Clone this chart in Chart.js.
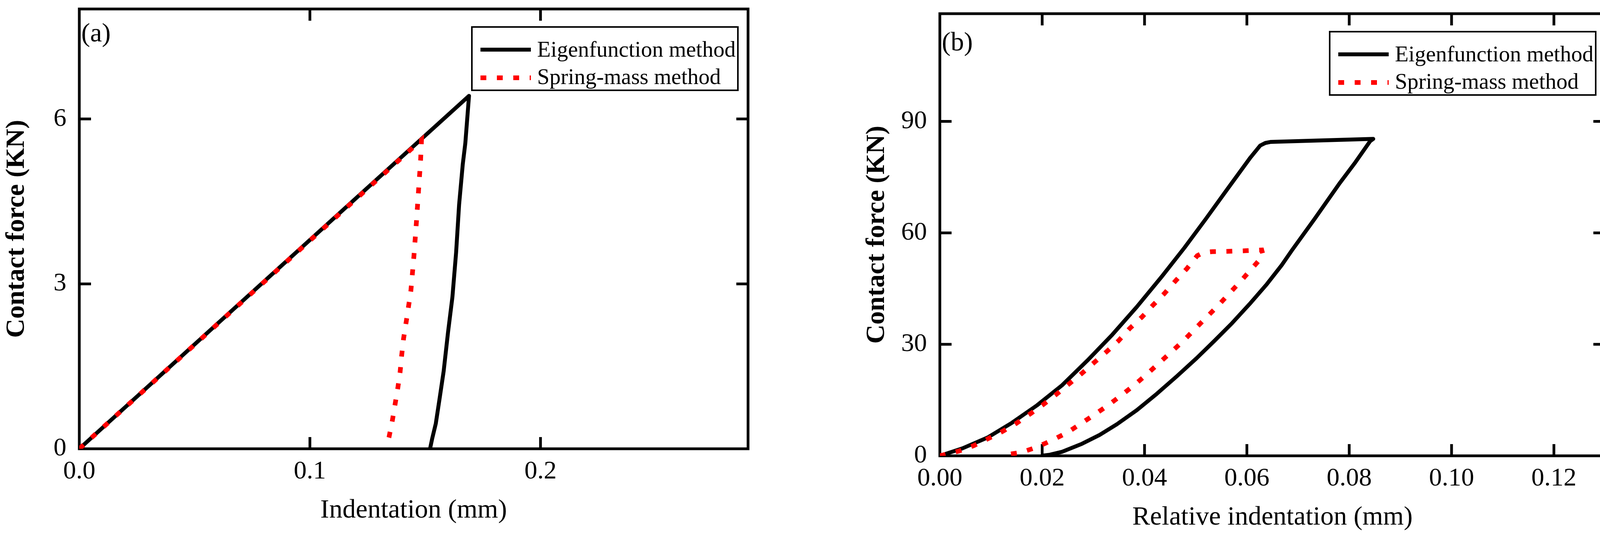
<!DOCTYPE html>
<html>
<head>
<meta charset="utf-8">
<script src="https://cdn.jsdelivr.net/npm/chart.js@4.4.1/dist/chart.umd.min.js"></script>
<style>
  html, body { margin: 0; padding: 0; background: #ffffff; }
  #wrap { position: relative; width: 4127px; height: 1366px; background: #ffffff; overflow: hidden; }
  canvas { position: absolute; top: 0; }
  #ca { left: 0; }
  #cb { left: 2064px; }
</style>
</head>
<body>
<div id="wrap">
  <canvas id="ca" width="2064" height="1366"></canvas>
  <canvas id="cb" width="2063" height="1366"></canvas>
</div>
<script>
// ---------- Data ----------
const seriesNames = ['Eigenfunction method', 'Spring-mass method'];

// Panel (a): Indentation (mm) vs Contact force (KN)
const aEigX = [0, 0.1690, 0.1674, 0.1663, 0.1647, 0.1634, 0.1618, 0.1599, 0.1580, 0.1563, 0.1546, 0.1530, 0.1521];
const aEigY = [0, 6.42, 5.56, 5.18, 4.44, 3.57, 2.76, 2.12, 1.41, 0.93, 0.46, 0.18, 0];
const aSprX = [0, 0.1484, 0.1480, 0.1471, 0.1462, 0.1451, 0.1438, 0.1421, 0.1406, 0.1398, 0.1391, 0.1381, 0.1369, 0.1357, 0.1343, 0.1337];
const aSprY = [0, 5.62, 5.25, 4.69, 4.13, 3.50, 2.88, 2.40, 2.00, 1.70, 1.39, 1.10, 0.80, 0.50, 0.21, 0.12];
const aXTicks = [0, 0.1, 0.2];
const aYTicks = [0, 3, 6];

// Panel (b): Relative indentation (mm) vs Contact force (KN)
const bEigX = [0, 0.0044, 0.0093, 0.0141, 0.0190, 0.0239, 0.0288, 0.0337, 0.0385, 0.0434, 0.0478, 0.0520, 0.0563, 0.0607, 0.0626, 0.0636, 0.0647, 0.0750, 0.0847,
               0.0841, 0.0812, 0.0782, 0.0732, 0.0688, 0.0668, 0.0639, 0.0605, 0.0571, 0.0537, 0.0502, 0.0463, 0.0424, 0.0385, 0.0346, 0.0312, 0.0278, 0.0239, 0.0215, 0.0198];
const bEigY = [0, 2.0, 4.9, 8.9, 13.6, 19.0, 25.6, 32.6, 40.1, 48.3, 56.0, 63.8, 72.0, 80.3, 83.5, 84.2, 84.5, 84.9, 85.3,
               84.7, 79.0, 73.5, 63.7, 55.3, 51.3, 46.2, 40.8, 35.7, 31.0, 26.3, 21.4, 16.7, 12.3, 8.5, 5.6, 3.26, 1.09, 0.3, 0];
const bSprX = [0, 0.0037, 0.0066, 0.0093, 0.0122, 0.0149, 0.0176, 0.0202, 0.0228, 0.0253, 0.0277, 0.0301, 0.0326, 0.0349, 0.0371, 0.0395, 0.0417, 0.0439, 0.0461, 0.0483, 0.0503, 0.0515, 0.0532, 0.0566, 0.0598, 0.0629,
               0.0632, 0.0611, 0.0589, 0.0567, 0.0545, 0.0523, 0.0500, 0.0477, 0.0453, 0.0428, 0.0405, 0.0380, 0.0355, 0.0328, 0.0302, 0.0276, 0.0248, 0.0219, 0.0189, 0.0159, 0.0127];
const bSprY = [0, 1.27, 2.72, 4.53, 6.53, 8.70, 11.24, 13.78, 16.58, 19.40, 22.13, 25.03, 28.04, 30.94, 34.28, 37.36, 40.62, 43.71, 47.15, 50.42, 53.86, 54.7, 54.95, 55.05, 55.2, 55.4,
               53.86, 50.6, 47.15, 43.89, 40.62, 37.54, 34.35, 31.08, 28.04, 24.92, 22.02, 19.04, 16.32, 13.53, 11.06, 8.70, 6.17, 4.17, 2.29, 0.91, 0.25];
const bXTicks = [0, 0.02, 0.04, 0.06, 0.08, 0.10, 0.12];
const bYTicks = [0, 30, 60, 90];

// ---------- Helpers ----------
const SERIF = "'Liberation Serif', 'Times New Roman', Times, serif";
const pts = (xs, ys) => xs.map((x, i) => ({ x: x, y: ys[i] }));

// Frame + inward ticks on all four sides
const framePlugin = {
  id: 'frame',
  beforeDatasetsDraw(chart) {
    const { ctx, chartArea: ca, scales } = chart;
    const o = chart.options.plugins.frame;
    ctx.save();
    ctx.strokeStyle = '#000';
    ctx.lineWidth = 7;
    ctx.lineCap = 'butt';
    ctx.strokeRect(ca.left, ca.top, ca.right - ca.left, ca.bottom - ca.top);
    const L = 30;
    ctx.beginPath();
    o.xTicks.forEach(v => {
      const px = scales.x.getPixelForValue(v);
      if (px <= ca.left + 2 || px >= ca.right - 2) return;
      ctx.moveTo(px, ca.bottom); ctx.lineTo(px, ca.bottom - L);
      ctx.moveTo(px, ca.top); ctx.lineTo(px, ca.top + L);
    });
    o.yTicks.forEach(v => {
      const py = scales.y.getPixelForValue(v);
      if (py <= ca.top + 2 || py >= ca.bottom - 2) return;
      ctx.moveTo(ca.left, py); ctx.lineTo(ca.left + L, py);
      ctx.moveTo(ca.right, py); ctx.lineTo(ca.right - L, py);
    });
    ctx.stroke();
    ctx.restore();
  }
};

// Boxed legend inside the plot area + panel letter
const boxLegendPlugin = {
  id: 'boxLegend',
  afterDatasetsDraw(chart) {
    const { ctx, chartArea: ca } = chart;
    const o = chart.options.plugins.boxLegend;
    ctx.save();
    ctx.fillStyle = '#000';
    ctx.font = '68px ' + SERIF;
    ctx.textAlign = 'left';
    ctx.textBaseline = 'alphabetic';
    ctx.fillText(o.letter, ca.left + 5, ca.top + o.letterDy);
    const w = 681, h = 162;
    const bx = ca.right - o.rightGap - w, by = ca.top + 46;
    ctx.fillStyle = '#fff';
    ctx.fillRect(bx, by, w, h);
    ctx.strokeStyle = '#000';
    ctx.lineWidth = 4;
    ctx.strokeRect(bx, by, w, h);
    chart.data.datasets.forEach((ds, i) => {
      const cy = by + 58 + i * 72;
      ctx.save();
      ctx.beginPath();
      ctx.strokeStyle = ds.borderColor;
      ctx.lineWidth = ds.borderWidth;
      ctx.lineCap = 'butt';
      ctx.setLineDash(ds.borderDash || []);
      ctx.moveTo(bx + 22, cy);
      ctx.lineTo(bx + 151, cy);
      ctx.stroke();
      ctx.restore();
      ctx.fillStyle = '#000';
      ctx.font = '57px ' + SERIF;
      ctx.textBaseline = 'alphabetic';
      ctx.fillText(ds.label, bx + 167, by + 76 + i * 70);
    });
    ctx.restore();
  }
};

function makeChart(id, cfg) {
  const yW = cfg.yWidth, xH = cfg.xHeight;
  return new Chart(document.getElementById(id), {
    type: 'scatter',
    data: {
      datasets: [
        { label: seriesNames[0], data: cfg.eig, showLine: true, borderColor: '#000000', backgroundColor: '#000000',
          borderWidth: 10, pointRadius: 0, tension: 0, order: 1, borderJoinStyle: 'round' },
        { label: seriesNames[1], data: cfg.spr, showLine: true, borderColor: '#ff0000', backgroundColor: '#ff0000',
          borderWidth: 12, borderDash: [15, 27], borderCapStyle: 'butt', pointRadius: 0, tension: 0, order: 0 }
      ]
    },
    options: {
      responsive: false,
      animation: false,
      devicePixelRatio: 1,
      layout: { padding: { left: 0, top: cfg.top, right: cfg.right, bottom: 0 } },
      plugins: {
        legend: { display: false },
        tooltip: { enabled: false },
        frame: { xTicks: cfg.xTicks, yTicks: cfg.yTicks },
        boxLegend: { letter: cfg.letter, letterDy: cfg.letterDy, rightGap: cfg.legendRight }
      },
      scales: {
        x: {
          type: 'linear', min: 0, max: cfg.xMax,
          grid: { display: false, drawTicks: false },
          border: { display: false },
          afterBuildTicks: s => { s.ticks = cfg.xTicks.map(v => ({ value: v })); },
          ticks: { color: '#000', padding: 26, font: { family: SERIF, size: 66, lineHeight: 1 },
                   maxRotation: 0, autoSkip: false, callback: v => Number(v).toFixed(cfg.xDec) },
          title: { display: true, text: cfg.xTitle, color: '#000',
                   font: { family: SERIF, size: 68, lineHeight: 1 }, padding: { top: 0, bottom: cfg.xTitlePad } },
          afterFit: s => { s.height = xH; s.paddingLeft = 0; s.paddingRight = 0; }
        },
        y: {
          type: 'linear', min: 0, max: cfg.yMax,
          grid: { display: false, drawTicks: false },
          border: { display: false },
          afterBuildTicks: s => { s.ticks = cfg.yTicks.map(v => ({ value: v })); },
          ticks: { color: '#000', padding: 33, font: { family: SERIF, size: 66, lineHeight: 1 },
                   autoSkip: false, callback: v => String(v) },
          title: { display: true, text: 'Contact force (KN)', color: '#000',
                   font: { family: SERIF, size: 68, weight: 'bold', lineHeight: 1 }, padding: { top: cfg.yTitlePad, bottom: 0 } },
          afterFit: s => { s.width = yW; s.paddingTop = 0; s.paddingBottom = 0; }
        }
      }
    },
    plugins: [framePlugin, boxLegendPlugin]
  });
}

makeChart('ca', {
  eig: pts(aEigX, aEigY), spr: pts(aSprX, aSprY),
  xTicks: aXTicks, yTicks: aYTicks, xMax: 0.29, yMax: 8, xDec: 1,
  xTitle: 'Indentation (mm)', letter: '(a)', letterDy: 83, legendRight: 26,
  top: 23, right: 149, yWidth: 203, xHeight: 218, xTitlePad: 26, yTitlePad: 9
});

makeChart('cb', {
  eig: pts(bEigX, bEigY), spr: pts(bSprX, bSprY),
  xTicks: bXTicks, yTicks: bYTicks, xMax: 0.13, yMax: 119, xDec: 2,
  xTitle: 'Relative indentation (mm)', letter: '(b)', letterDy: 94, legendRight: 24,
  top: 35, right: 18, yWidth: 342, xHeight: 200, xTitlePad: 8, yTitlePad: 147
});
</script>
</body>
</html>
